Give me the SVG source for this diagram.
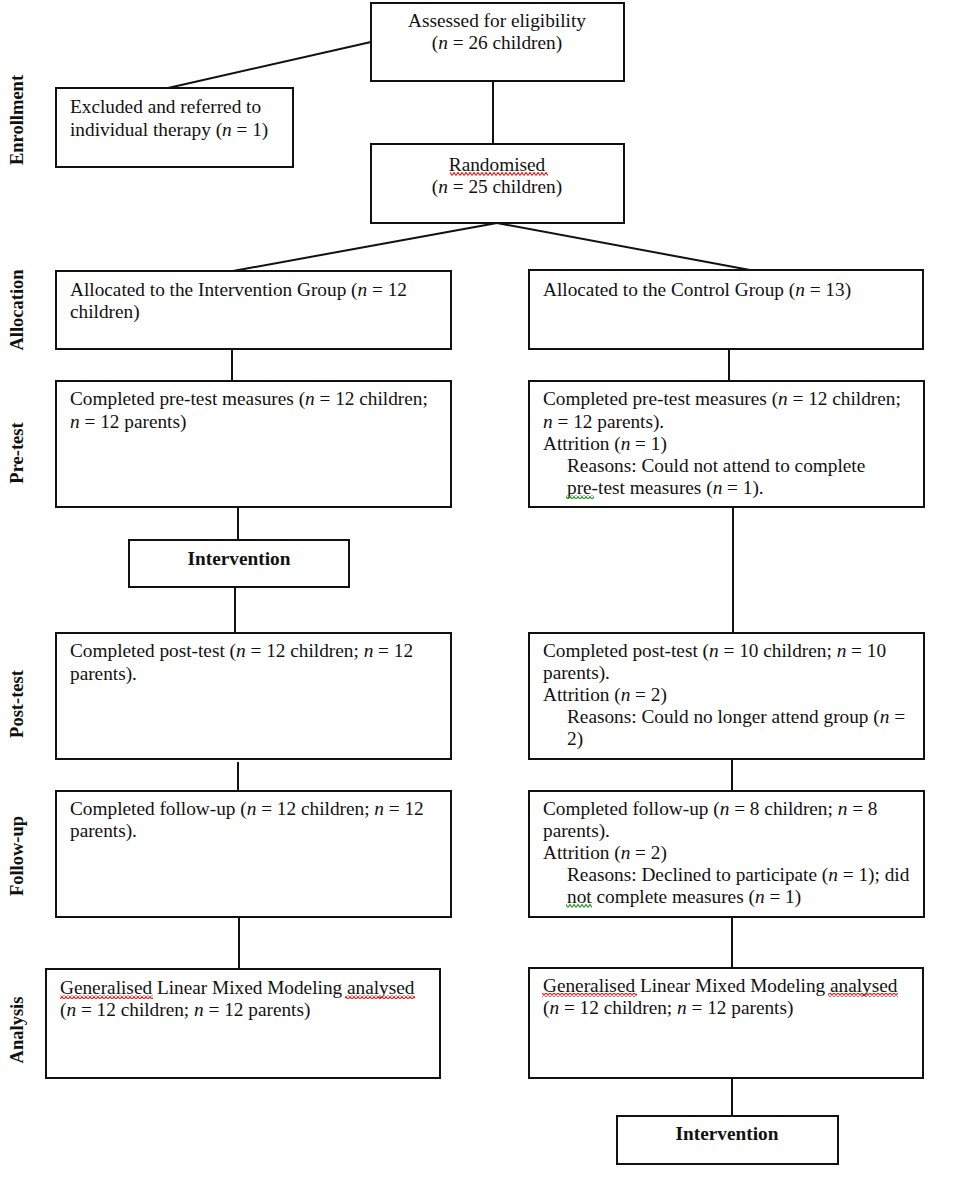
<svg xmlns="http://www.w3.org/2000/svg" width="961" height="1190" viewBox="0 0 961 1190">
<style>
.box{fill:#fff;stroke:#111;stroke-width:2}
.t{font-family:"Liberation Serif","Times New Roman",serif;font-size:19.3px;fill:#111}
.b{font-weight:bold}
.side{font-family:"Liberation Serif","Times New Roman",serif;font-size:18.5px;font-weight:bold;fill:#111;text-anchor:middle}
.c{text-anchor:middle}
.conn line{stroke:#111;stroke-width:2}
</style>
<defs>
<pattern id="wr" width="4" height="4" patternUnits="userSpaceOnUse"><path d="M0,3.5 L2,0.5 L4,3.5" fill="none" stroke="#e0201c" stroke-width="1.2"/></pattern>
<pattern id="wg" width="4" height="4" patternUnits="userSpaceOnUse"><path d="M0,3.5 L2,0.5 L4,3.5" fill="none" stroke="#2a9a2a" stroke-width="1.2"/></pattern>
</defs>
<rect width="961" height="1190" fill="#fff"/>

<g id="connectors" class="conn">
<line x1="168" y1="88" x2="371" y2="42"/>
<line x1="493" y1="81" x2="493" y2="144"/>
<line x1="497" y1="223" x2="233" y2="271"/>
<line x1="497" y1="223" x2="750" y2="270"/>
<line x1="232" y1="349" x2="232" y2="381"/>
<line x1="729" y1="349" x2="729" y2="381"/>
<line x1="238" y1="507" x2="238" y2="540"/>
<line x1="235" y1="587" x2="235" y2="633"/>
<line x1="733" y1="507" x2="733" y2="633"/>
<line x1="238" y1="762" x2="238" y2="791"/>
<line x1="732" y1="759" x2="732" y2="791"/>
<line x1="239" y1="917" x2="239" y2="969"/>
<line x1="732" y1="917" x2="732" y2="968"/>
<line x1="732" y1="1078" x2="732" y2="1116"/>
</g>

<g id="labels">
<text class="side" transform="translate(23,120) rotate(-90)">Enrollment</text>
<text class="side" transform="translate(23,310) rotate(-90)">Allocation</text>
<text class="side" transform="translate(23,453) rotate(-90)">Pre-test</text>
<text class="side" transform="translate(23,704) rotate(-90)">Post-test</text>
<text class="side" transform="translate(23,856) rotate(-90)">Follow-up</text>
<text class="side" transform="translate(23,1030) rotate(-90)">Analysis</text>
</g>

<g id="assessed">
<rect class="box" x="371" y="3" width="253" height="78"/>
<text class="t c" x="497" y="27">Assessed for eligibility</text>
<text class="t c" x="497" y="49">(<tspan font-style="italic">n</tspan> = 26 children)</text>
</g>

<g id="excluded">
<rect class="box" x="56" y="88" width="237" height="79"/>
<text class="t" x="70" y="113">Excluded and referred to</text>
<text class="t" x="70" y="136">individual therapy (<tspan font-style="italic">n</tspan> = 1)</text>
</g>

<g id="randomised">
<rect class="box" x="371" y="144" width="253" height="79"/>
<text class="t c" x="497" y="171">Randomised</text>
<rect x="450" y="172" width="98" height="4" fill="url(#wr)"/>
<text class="t c" x="497" y="193">(<tspan font-style="italic">n</tspan> = 25 children)</text>
</g>

<g id="alloc-int">
<rect class="box" x="56" y="271" width="395" height="78"/>
<text class="t" x="70" y="296">Allocated to the Intervention Group (<tspan font-style="italic">n</tspan> = 12</text>
<text class="t" x="70" y="318">children)</text>
</g>

<g id="alloc-ctrl">
<rect class="box" x="529" y="270" width="394" height="79"/>
<text class="t" x="543" y="296">Allocated to the Control Group (<tspan font-style="italic">n</tspan> = 13)</text>
</g>

<g id="pre-int">
<rect class="box" x="56" y="381" width="395" height="126"/>
<text class="t" x="70" y="405">Completed pre-test measures (<tspan font-style="italic">n</tspan> = 12 children;</text>
<text class="t" x="70" y="428"><tspan font-style="italic">n</tspan> = 12 parents)</text>
</g>

<g id="pre-ctrl">
<rect class="box" x="529" y="381" width="395" height="126"/>
<text class="t" x="543" y="405">Completed pre-test measures (<tspan font-style="italic">n</tspan> = 12 children;</text>
<text class="t" x="543" y="428"><tspan font-style="italic">n</tspan> = 12 parents).</text>
<text class="t" x="543" y="450">Attrition (<tspan font-style="italic">n</tspan> = 1)</text>
<text class="t" x="567" y="472">Reasons: Could not attend to complete</text>
<text class="t" x="567" y="494">pre-test measures (<tspan font-style="italic">n</tspan> = 1).</text>
<rect x="566" y="495" width="28" height="4" fill="url(#wg)"/>
</g>

<g id="intervention-1">
<rect class="box" x="129" y="540" width="220" height="47"/>
<text class="t b c" x="239" y="565">Intervention</text>
</g>

<g id="post-int">
<rect class="box" x="56" y="633" width="395" height="126"/>
<text class="t" x="70" y="657">Completed post-test (<tspan font-style="italic">n</tspan> = 12 children; <tspan font-style="italic">n</tspan> = 12</text>
<text class="t" x="70" y="680">parents).</text>
</g>

<g id="post-ctrl">
<rect class="box" x="529" y="633" width="395" height="126"/>
<text class="t" x="543" y="657">Completed post-test (<tspan font-style="italic">n</tspan> = 10 children; <tspan font-style="italic">n</tspan> = 10</text>
<text class="t" x="543" y="679">parents).</text>
<text class="t" x="543" y="701">Attrition (<tspan font-style="italic">n</tspan> = 2)</text>
<text class="t" x="567" y="723">Reasons: Could no longer attend group (<tspan font-style="italic">n</tspan> =</text>
<text class="t" x="567" y="745">2)</text>
</g>

<g id="fu-int">
<rect class="box" x="56" y="791" width="395" height="126"/>
<text class="t" x="70" y="815">Completed follow-up (<tspan font-style="italic">n</tspan> = 12 children; <tspan font-style="italic">n</tspan> = 12</text>
<text class="t" x="70" y="837">parents).</text>
</g>

<g id="fu-ctrl">
<rect class="box" x="529" y="791" width="395" height="126"/>
<text class="t" x="543" y="815">Completed follow-up (<tspan font-style="italic">n</tspan> = 8 children; <tspan font-style="italic">n</tspan> = 8</text>
<text class="t" x="543" y="837">parents).</text>
<text class="t" x="543" y="859">Attrition (<tspan font-style="italic">n</tspan> = 2)</text>
<text class="t" x="567" y="881">Reasons: Declined to participate (<tspan font-style="italic">n</tspan> = 1); did</text>
<text class="t" x="567" y="903">not complete measures (<tspan font-style="italic">n</tspan> = 1)</text>
<rect x="566" y="904" width="26" height="4" fill="url(#wg)"/>
</g>

<g id="analysis-int">
<rect class="box" x="46" y="969" width="394" height="109"/>
<text class="t" x="60" y="994">Generalised Linear Mixed Modeling analysed</text>
<rect x="60" y="995" width="93" height="4" fill="url(#wr)"/>
<rect x="345" y="995" width="70" height="4" fill="url(#wr)"/>
<text class="t" x="60" y="1016">(<tspan font-style="italic">n</tspan> = 12 children; <tspan font-style="italic">n</tspan> = 12 parents)</text>
</g>

<g id="analysis-ctrl">
<rect class="box" x="529" y="968" width="394" height="110"/>
<text class="t" x="543" y="992">Generalised Linear Mixed Modeling analysed</text>
<rect x="542" y="993" width="95" height="4" fill="url(#wr)"/>
<rect x="828" y="993" width="70" height="4" fill="url(#wr)"/>
<text class="t" x="543" y="1014">(<tspan font-style="italic">n</tspan> = 12 children; <tspan font-style="italic">n</tspan> = 12 parents)</text>
</g>

<g id="intervention-2">
<rect class="box" x="617" y="1116" width="221" height="48"/>
<text class="t b c" x="727" y="1140">Intervention</text>
</g>
</svg>
